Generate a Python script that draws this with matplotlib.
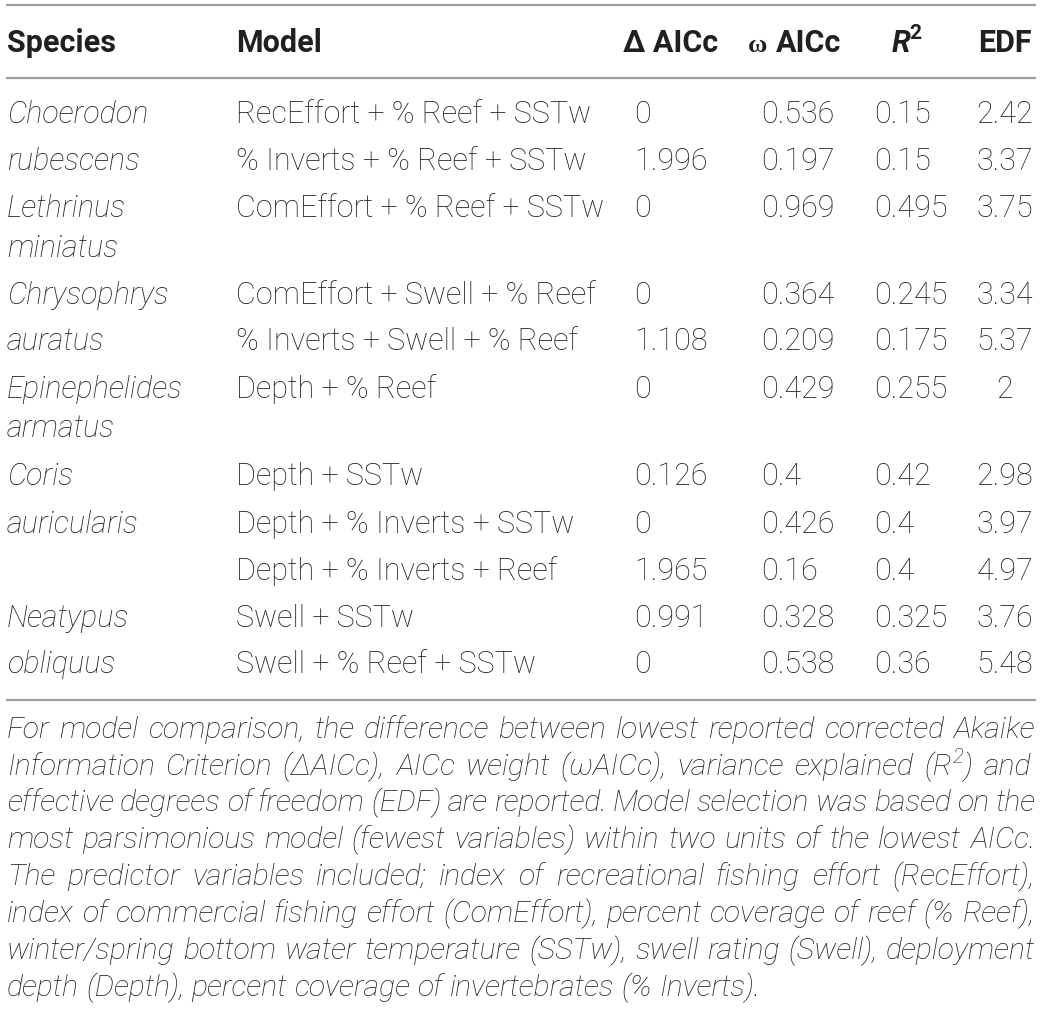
import matplotlib
matplotlib.use("Agg")
import matplotlib.pyplot as plt

W, H = 1041, 1010

species = ["Choerodon", "rubescens", "Lethrinus", "miniatus", "Chrysophrys", "auratus",
           "Epinephelides", "armatus", "Coris", "auricularis", "", "Neatypus", "obliquus"]
models = ["RecEffort + % Reef + SSTw", "% Inverts + % Reef + SSTw", "ComEffort + % Reef + SSTw", "",
          "ComEffort + Swell + % Reef", "% Inverts + Swell + % Reef", "Depth + % Reef", "",
          "Depth + SSTw", "Depth + % Inverts + SSTw", "Depth + % Inverts + Reef",
          "Swell + SSTw", "Swell + % Reef + SSTw"]
delta_aicc = ["0", "1.996", "0", "", "0", "1.108", "0", "", "0.126", "0", "1.965", "0.991", "0"]
omega_aicc = ["0.536", "0.197", "0.969", "", "0.364", "0.209", "0.429", "", "0.4", "0.426", "0.16", "0.328", "0.538"]
r2 = ["0.15", "0.15", "0.495", "", "0.245", "0.175", "0.255", "", "0.42", "0.4", "0.4", "0.325", "0.36"]
edf = ["2.42", "3.37", "3.75", "", "3.34", "5.37", "2", "", "2.98", "3.97", "4.97", "3.76", "5.48"]

row_base = [123, 170, 217, 257, 304, 350, 398, 437, 485, 533, 580, 627, 673]

footnote = [
    "For model comparison, the difference between lowest reported corrected Akaike",
    "Information Criterion (\u0394AICc), AICc weight (\u03c9AICc), variance explained (R2) and",
    "effective degrees of freedom (EDF) are reported. Model selection was based on the",
    "most parsimonious model (fewest variables) within two units of the lowest AICc.",
    "The predictor variables included; index of recreational fishing effort (RecEffort),",
    "index of commercial fishing effort (ComEffort), percent coverage of reef (% Reef),",
    "winter/spring bottom water temperature (SSTw), swell rating (Swell), deployment",
    "depth (Depth), percent coverage of invertebrates (% Inverts).",
]
foot_base = [738, 775, 811, 848, 885, 922, 959, 996]

TXT = "#231f20"
FONT = "Roboto"
FS = 22

fig = plt.figure(figsize=(W / 100, H / 100), dpi=100)
ax = fig.add_axes([0, 0, 1, 1])
ax.set_xlim(0, W)
ax.set_ylim(H, 0)
ax.axis("off")

# horizontal rules
for y in [5, 78, 700]:
    ax.plot([7, 1035], [y, y], color="#a0a0a0", lw=1.6)

hd = dict(fontsize=FS, fontweight="bold", family=FONT, color=TXT, va="baseline")
ax.text(7, 52, "Species", **hd)
ax.text(236, 52, "Model", **hd)
ax.text(623, 52, "\u0394 AICc", **hd)
ax.text(748, 52, "\u03c9", fontsize=FS - 3, fontweight="bold", family="Liberation Serif",
        color=TXT, va="baseline")
ax.text(776, 52, "AICc", **hd)
ax.text(892, 52, "R", fontsize=FS, fontweight="bold", style="italic", family=FONT, color=TXT, va="baseline")
ax.text(909, 39, "2", fontsize=FS - 7, fontweight="bold", family=FONT, color=TXT, va="baseline")
ax.text(978, 52, "EDF", **hd)

bd = dict(fontsize=FS, fontweight="light", family=FONT, color=TXT, va="baseline")
for i, y in enumerate(row_base):
    ax.text(7, y, species[i], style="italic", **bd)
    ax.text(236, y, models[i], **bd)
    ax.text(634, y, delta_aicc[i], **bd)
    ax.text(761, y, omega_aicc[i], **bd)
    ax.text(874, y, r2[i], **bd)
    ax.text(1005, y, edf[i], ha="center", **bd)

# justified footnote
fig.canvas.draw()
r = fig.canvas.get_renderer()
x0, x1 = 7, 1035


def wwidth(s, fs):
    t = ax.text(0, 0, s, fontsize=fs, fontweight="light", style="italic", family=FONT)
    bb = t.get_window_extent(renderer=r)
    t.remove()
    return bb.width


# pick a size so that every line fits with at least a small gap
ffs = FS
while True:
    sp = wwidth("a a", ffs) - wwidth("aa", ffs)
    ok = True
    for line in footnote:
        words = line.split(" ")
        tot = sum(wwidth(w, ffs) for w in words) + 0.8 * sp * (len(words) - 1)
        if tot > x1 - x0:
            ok = False
            break
    if ok:
        break
    ffs -= 0.25

ft = dict(fontsize=ffs, fontweight="light", style="italic", family=FONT, color=TXT, va="baseline")
sp = wwidth("a a", ffs) - wwidth("aa", ffs)
for j, (line, y) in enumerate(zip(footnote, foot_base)):
    words = line.split(" ")
    widths = [wwidth(w, ffs) for w in words]
    if j == len(footnote) - 1:
        gap = sp
    else:
        gap = (x1 - x0 - sum(widths)) / (len(words) - 1)
    x = x0
    for w, wd in zip(words, widths):
        if w == "(R2)":
            wr = wwidth("(R", ffs)
            ax.text(x, y, "(R", **ft)
            ax.text(x + wr, y - 12, "2", fontsize=ffs - 7, fontweight="light", style="italic",
                    family=FONT, color=TXT, va="baseline")
            ax.text(x + wr + wwidth("2", ffs - 7) + 1, y, ")", **ft)
            wd = wr + wwidth("2", ffs - 7) + 1 + wwidth(")", ffs)
        else:
            ax.text(x, y, w, **ft)
        x += wd + gap

fig.savefig("out.png", dpi=100)
